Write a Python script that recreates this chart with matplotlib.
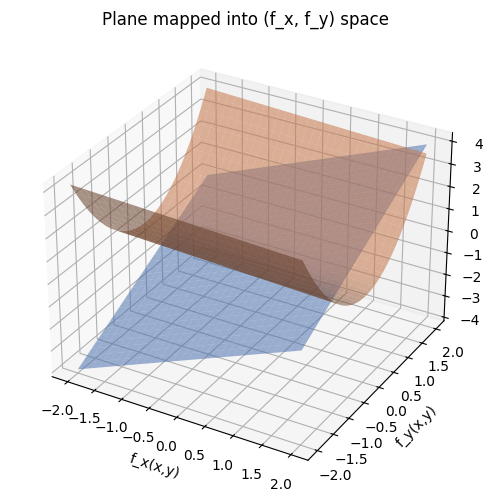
import matplotlib
matplotlib.use("Agg")
import matplotlib.pyplot as plt
import numpy as np

# grid over the input plane
x_vals = np.linspace(-2, 2, 60)
y_vals = np.linspace(-2, 2, 60)
X, Y = np.meshgrid(x_vals, y_vals)

# the plane and the curved surface
Z_plane = X + Y
Z_curve = 1.0 * Y**2 - 0.05 * Y - 0.1 * X - 0.1

fig = plt.figure(figsize=(4.91, 5.04), dpi=100)
ax = fig.add_subplot(111, projection='3d')

ax.plot_surface(X, Y, Z_plane, color='#4c72b0', alpha=0.55, linewidth=0, antialiased=True)
ax.plot_surface(X, Y, Z_curve, color='#dd8452', alpha=0.55, linewidth=0, antialiased=True)

ax.set_xticks(np.arange(-2, 2.01, 0.5))
ax.set_yticks(np.arange(-2, 2.01, 0.5))
ax.set_zticks(np.arange(-4, 4.01, 1))
ax.set_xlabel('f_x(x,y)')
ax.set_ylabel('f_y(x,y)')
ax.set_title('Plane mapped into (f_x, f_y) space')

plt.tight_layout()
plt.savefig('out.png', dpi=100)
